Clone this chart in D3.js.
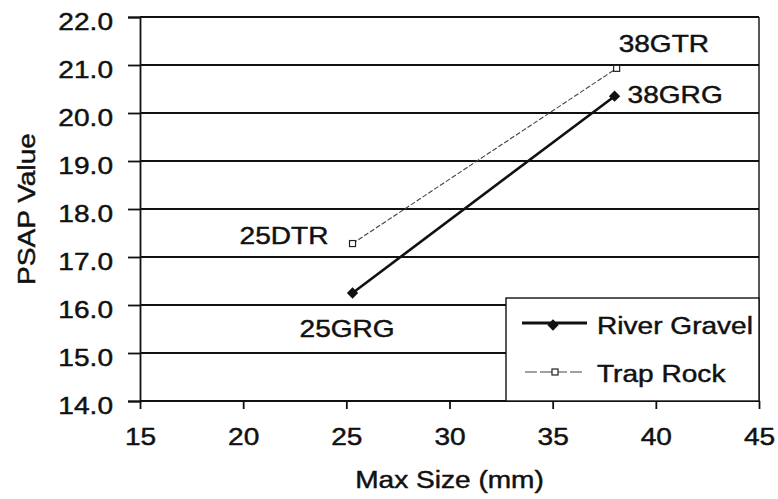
<!DOCTYPE html>
<html>
<head>
<meta charset="utf-8">
<script src="https://cdn.jsdelivr.net/npm/d3@7"></script>
<style>
  html, body { margin: 0; padding: 0; background: #fff; }
  svg { display: block; font-family: "Liberation Sans", Arial, Helvetica, sans-serif; }
  text { stroke: #111; stroke-width: 0.45px; }
</style>
</head>
<body>
<svg id="chart" width="778" height="499"></svg>
<script>
// PSAP value versus maximum aggregate size
const seriesNames = ["River Gravel", "Trap Rock"];
const maxSize = [[25.3, 38.0], [25.3, 38.1]];
const psap = [[16.25, 20.35], [17.28, 20.93]];
const pointLabels = [["25GRG", "38GRG"], ["25DTR", "38GTR"]];
const xTicks = [15, 20, 25, 30, 35, 40, 45];
const yTicks = [14, 15, 16, 17, 18, 19, 20, 21, 22];

const FONT = 24;      // text size
const WIDEN = 1.17;   // horizontal stretch of the lettering

const svg = d3.select("#chart");
const margin = { left: 140, right: 19, top: 17, bottom: 98 };
const W = 778, H = 499;

const x = d3.scaleLinear().domain([15, 45]).range([margin.left, W - margin.right]);
const y = d3.scaleLinear().domain([14, 22]).range([H - margin.bottom, margin.top]);

// place a widened text label with its anchor at (px, py)
function label(parent, px, py, str, anchor = "start", rotate = 0) {
  return parent.append("text")
    .attr("transform", `translate(${px},${py}) rotate(${rotate}) scale(${WIDEN},1)`)
    .attr("text-anchor", anchor).attr("fill", "#111")
    .style("font-size", FONT + "px").text(str);
}

// horizontal grid lines
svg.append("g").selectAll("line").data(yTicks).join("line")
  .attr("x1", x(15)).attr("x2", x(45))
  .attr("y1", d => y(d)).attr("y2", d => y(d))
  .attr("stroke", "#111").attr("stroke-width", 1.8);

// right border
svg.append("line")
  .attr("x1", x(45)).attr("x2", x(45))
  .attr("y1", y(22)).attr("y2", y(14))
  .attr("stroke", "#111").attr("stroke-width", 1.4);

// axes
const yAxis = svg.append("g")
  .attr("transform", `translate(${x(15)},0)`)
  .call(d3.axisLeft(y).tickValues(yTicks).tickFormat(d3.format(".1f")).tickSize(12).tickPadding(15));
const xAxis = svg.append("g")
  .attr("transform", `translate(0,${y(14)})`)
  .call(d3.axisBottom(x).tickValues(xTicks).tickFormat(d3.format("d")).tickSize(8).tickPadding(19));

[yAxis, xAxis].forEach(g => {
  g.select(".domain").attr("stroke", "#111").attr("stroke-width", 1.8);
  g.selectAll(".tick line").attr("stroke", "#111").attr("stroke-width", 1.8);
  g.selectAll(".tick text").each(function () {
    const t = d3.select(this);
    const tx = +t.attr("x") || 0, ty = +t.attr("y") || 0;
    t.attr("x", 0).attr("y", 0)
      .attr("transform", `translate(${tx},${ty}) scale(${WIDEN},1)`)
      .attr("fill", "#111")
      .style("font-size", FONT + "px")
      .style("font-family", "Liberation Sans, Arial, sans-serif");
  });
});
xAxis.select(".domain").remove();
yAxis.selectAll(".tick text").attr("dy", "0.5em");
xAxis.selectAll(".tick text").attr("dy", "0.71em");

// axis titles
label(svg, (x(15) + x(45)) / 2, 488, "Max Size (mm)", "middle");
label(svg, 35, (y(14) + y(22)) / 2, "PSAP Value", "middle", -90);

const line = d3.line().x(d => x(d[0])).y(d => y(d[1]));
const pts = i => maxSize[i].map((v, j) => [v, psap[i][j]]);

// Trap Rock: thin dashed line with small open square markers
svg.append("path").datum(pts(1)).attr("d", line)
  .attr("fill", "none").attr("stroke", "#444").attr("stroke-width", 1.1)
  .attr("stroke-dasharray", "5,2");
svg.append("g").selectAll("rect").data(pts(1)).join("rect")
  .attr("x", d => x(d[0]) - 3).attr("y", d => y(d[1]) - 3)
  .attr("width", 6).attr("height", 6)
  .attr("fill", "#fff").attr("stroke", "#222").attr("stroke-width", 1.2);

// River Gravel: thick solid line with filled diamonds
svg.append("path").datum(pts(0)).attr("d", line)
  .attr("fill", "none").attr("stroke", "#111").attr("stroke-width", 2.6);
const diamond = d3.symbol().type(d3.symbolSquare).size(64);
svg.append("g").selectAll("path").data(pts(0)).join("path")
  .attr("d", diamond)
  .attr("transform", d => `translate(${x(d[0])},${y(d[1])}) rotate(45)`)
  .attr("fill", "#111");

// point labels, offset from their points
const labelOffset = [
  [{ dx: -53, dy: 44 }, { dx: 13, dy: 7 }],
  [{ dx: -113, dy: 0 }, { dx: 2, dy: -16 }]
];
pointLabels.forEach((labels, i) => {
  labels.forEach((t, j) => {
    const o = labelOffset[i][j];
    label(svg, x(maxSize[i][j]) + o.dx, y(psap[i][j]) + o.dy, t);
  });
});

// legend
const lg = svg.append("g");
const lx = 506, ly = 298, lw = x(45) - 506, lh = y(14) - 298;
lg.append("rect").attr("x", lx).attr("y", ly).attr("width", lw).attr("height", lh)
  .attr("fill", "#fff").attr("stroke", "#111").attr("stroke-width", 1.4);
// River Gravel entry
lg.append("line").attr("x1", 522).attr("x2", 587).attr("y1", 323).attr("y2", 323)
  .attr("stroke", "#111").attr("stroke-width", 2.8);
lg.append("path").attr("d", diamond).attr("transform", "translate(553,325) rotate(45)").attr("fill", "#111");
label(lg, 597, 334, seriesNames[0]);
// Trap Rock entry
lg.append("line").attr("x1", 525).attr("x2", 585).attr("y1", 372).attr("y2", 372)
  .attr("stroke", "#444").attr("stroke-width", 1.2).attr("stroke-dasharray", "12,3");
lg.append("rect").attr("x", 552).attr("y", 369).attr("width", 6).attr("height", 6)
  .attr("fill", "#fff").attr("stroke", "#222").attr("stroke-width", 1.2);
label(lg, 597, 382, seriesNames[1]);
</script>
</body>
</html>
